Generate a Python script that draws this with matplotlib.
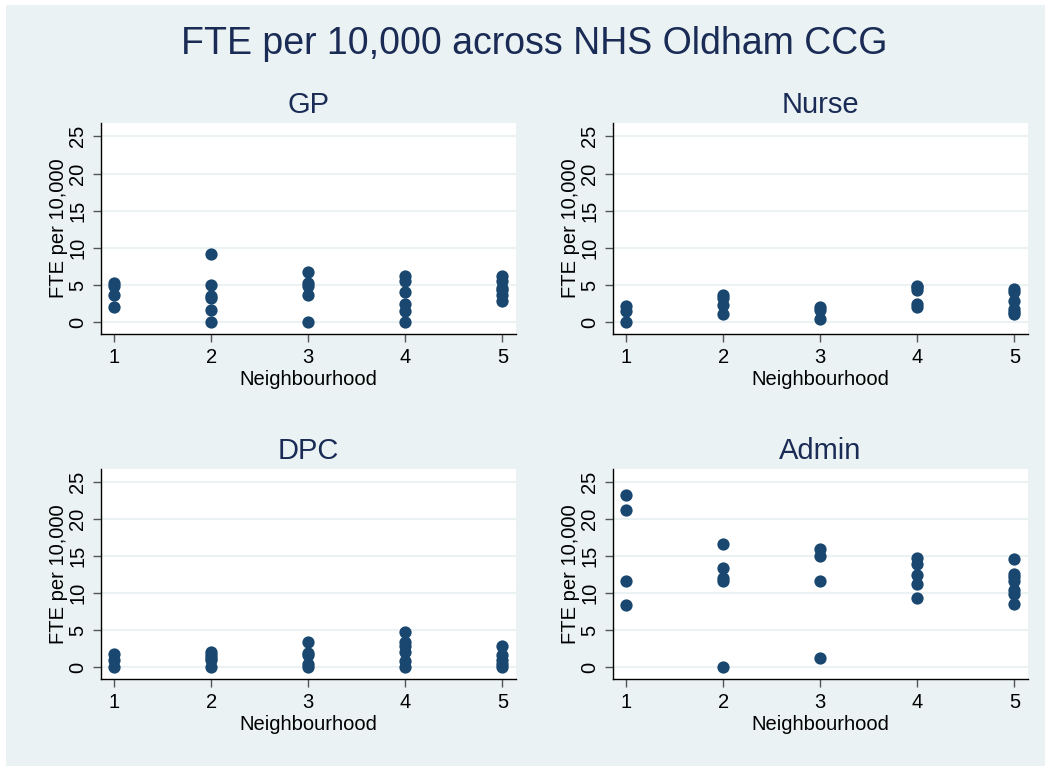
import matplotlib
matplotlib.use("Agg")
import matplotlib.pyplot as plt
from matplotlib.patches import Rectangle

plt.rcParams['font.family'] = ['Liberation Sans', 'DejaVu Sans']

# Datos (vecindario, FTE por 10,000)
gp_x = [1, 1, 1, 1, 2, 2, 2, 2, 2, 2, 3, 3, 3, 3, 3, 4, 4, 4, 4, 4, 4, 5, 5, 5, 5, 5, 5]
gp_y = [5.2, 4.8, 3.6, 2.1, 9.2, 5.0, 3.5, 3.3, 1.6, 0.0, 6.8, 5.2, 4.8, 3.6, 0.0,
        6.2, 5.5, 4.1, 2.5, 1.5, 0.0, 6.2, 5.5, 4.6, 4.3, 3.6, 2.8]

nurse_x = [1, 1, 1, 2, 2, 2, 2, 3, 3, 3, 4, 4, 4, 4, 4, 5, 5, 5, 5, 5, 5]
nurse_y = [2.2, 1.5, 0.0, 3.6, 3.2, 2.3, 1.1, 2.1, 1.6, 0.4,
           4.9, 4.7, 4.3, 2.5, 2.0, 4.5, 4.1, 2.9, 1.8, 1.35, 1.1]

dpc_x = [1, 1, 1, 2, 2, 2, 2, 2, 3, 3, 3, 3, 3, 4, 4, 4, 4, 4, 4, 5, 5, 5, 5, 5]
dpc_y = [1.8, 1.0, 0.0, 2.1, 1.6, 1.2, 1.0, 0.0, 3.4, 1.9, 1.7, 0.45, 0.0,
         4.7, 3.4, 2.8, 2.1, 0.85, 0.0, 2.9, 1.6, 1.0, 0.45, 0.0]

admin_x = [1, 1, 1, 1, 2, 2, 2, 2, 2, 3, 3, 3, 3, 4, 4, 4, 4, 4, 5, 5, 5, 5, 5, 5, 5]
admin_y = [23.3, 21.3, 11.6, 8.4, 16.7, 13.4, 12.1, 11.6, 0.0, 16.0, 15.0, 11.7, 1.2,
           14.8, 13.9, 12.4, 11.3, 9.4, 14.6, 12.6, 12.2, 11.6, 10.4, 9.9, 8.6]

paneles = [
    ("GP", gp_x, gp_y),
    ("Nurse", nurse_x, nurse_y),
    ("DPC", dpc_x, dpc_y),
    ("Admin", admin_x, admin_y),
]
yticks = [0, 5, 10, 15, 20, 25]
xticks = [1, 2, 3, 4, 5]

fondo = "#eaf2f3"
azul = "#1a476f"
texto = "#1a2b55"

fig = plt.figure(figsize=(10.51, 7.71), dpi=100)
fig.patch.set_facecolor("white")
fig.patches.append(Rectangle((6 / 1051, 1 - 766 / 771), 1039 / 1051, 761 / 771,
                             transform=fig.transFigure, facecolor=fondo,
                             edgecolor="none", zorder=-10))

fig.text(0.508, 1 - 44 / 771, "FTE per 10,000 across NHS Oldham CCG",
         ha="center", va="center", fontsize=27, color=texto)

posiciones = [
    [101 / 1051, 1 - 334 / 771, 415 / 1051, 211 / 771],
    [613 / 1051, 1 - 334 / 771, 415 / 1051, 211 / 771],
    [101 / 1051, 1 - 679 / 771, 415 / 1051, 210 / 771],
    [613 / 1051, 1 - 679 / 771, 415 / 1051, 210 / 771],
]

for (titulo, xs, ys), pos in zip(paneles, posiciones):
    ax = fig.add_axes(pos)
    ax.set_facecolor("white")
    ax.scatter(xs, ys, s=78, color=azul, zorder=3, linewidths=0)
    ax.set_xlim(0.866, 5.14)
    ax.set_ylim(-1.6, 26.8)
    ax.set_xticks(xticks)
    ax.set_yticks(yticks)
    ax.set_yticklabels([str(v) for v in yticks], rotation=90, va="center")
    ax.grid(axis="y", color=fondo, linewidth=1.5, zorder=0)
    ax.set_axisbelow(True)
    for lado in ["top", "right"]:
        ax.spines[lado].set_visible(False)
    for lado in ["left", "bottom"]:
        ax.spines[lado].set_color("black")
        ax.spines[lado].set_linewidth(1.0)
    ax.tick_params(length=6, width=1, color="#555555", labelsize=14.5, pad=4)
    ax.set_xlabel("Neighbourhood", fontsize=14.5, labelpad=2)
    ax.set_ylabel("FTE per 10,000", fontsize=14.5, labelpad=0)
    cx = pos[0] + pos[2] / 2
    top = pos[1] + pos[3]
    fig.text(cx, top + 18 / 771, titulo, ha="center", va="center",
             fontsize=21, color=texto)

fig.savefig("out.png", dpi=100, facecolor="white")
